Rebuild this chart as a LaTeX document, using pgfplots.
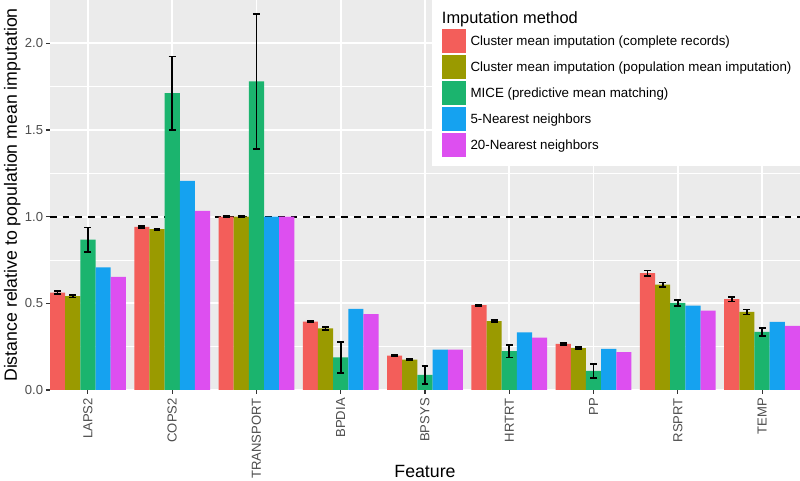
\documentclass[border=0pt]{standalone}
\usepackage{fontspec}
\setmainfont{Liberation Sans}
\usepackage{pgfplots}
\usepackage{pgfplotstable}
\pgfplotsset{compat=1.18}
\definecolor{cA}{HTML}{F35E5A}
\definecolor{cB}{HTML}{9A9A00}
\definecolor{cC}{HTML}{1BB46E}
\definecolor{cD}{HTML}{15A2F0}
\definecolor{cE}{HTML}{DD4FF0}
\definecolor{panelbg}{HTML}{EBEBEB}
\definecolor{ticktxt}{HTML}{4D4D4D}
\definecolor{tickcol}{HTML}{333333}

\pgfplotstableread{
x  a      ea     b      eb     c      ec     d      e
0  0.562  0.008  0.541  0.008  0.868  0.070  0.708  0.652
1  0.941  0.005  0.928  0.004  1.713  0.211  1.207  1.033
2  1.000  0.003  1.000  0.003  1.780  0.388  1.000  1.000
3  0.394  0.004  0.356  0.008  0.188  0.090  0.468  0.437
4  0.198  0.004  0.175  0.003  0.087  0.052  0.233  0.233
5  0.489  0.003  0.397  0.006  0.224  0.036  0.333  0.302
6  0.266  0.005  0.241  0.005  0.110  0.042  0.237  0.218
7  0.674  0.015  0.608  0.012  0.502  0.017  0.487  0.458
8  0.524  0.014  0.450  0.015  0.335  0.022  0.393  0.370
}\datatable

\begin{document}
\begin{tikzpicture}
\begin{axis}[
  name=ax,
  width=562.5pt, height=292.5pt, scale only axis,
  xmin=-0.45, xmax=8.45, ymin=0, ymax=2.25,
  ybar=0pt, bar width=0.18,
  legend image code/.code={\fill[#1,draw=none] (0pt,-9pt) rectangle (18pt,9pt);},
  axis background/.style={fill=panelbg},
  axis line style={draw=none},
  xtick={0,...,8},
  xticklabels={LAPS2,COPS2,TRANSPORT,BPDIA,BPSYS,HRTRT,PP,RSPRT,TEMP},
  ytick={0,0.5,1,1.5,2},
  yticklabels={0.0,0.5,1.0,1.5,2.0},
  minor ytick={0.25,0.75,1.25,1.75},
  xtick pos=bottom, ytick pos=left,
  tick align=outside,
  major tick length=3pt, minor tick length=0pt,
  tick style={draw=tickcol, line width=0.8pt},
  xmajorgrids, ymajorgrids, yminorgrids,
  major grid style={white, line width=1.4pt},
  minor grid style={white, line width=0.7pt},
  ticklabel style={font=\fontsize{9.8}{11}\selectfont, text=ticktxt},
  xticklabel style={rotate=90, anchor=east, inner sep=3pt},
  yticklabel style={inner sep=2pt},
  xlabel={Feature},
  ylabel={Distance relative to population mean imputation},
  label style={font=\fontsize{13.3}{15}\selectfont},
  xlabel style={at={(axis description cs:0.5,-0.2256)}, anchor=base},
  ylabel style={at={(axis description cs:-0.044,0.5)}, anchor=base, rotate=0},
  legend cell align=left,
  legend style={at={(axis description cs:0.5227,0.9256)}, anchor=north west,
    draw=none, fill=none, inner sep=0pt, row sep=1.5pt,
    nodes={inner sep=0pt},
    font=\fontsize{10}{12}\selectfont,
    /tikz/every odd column/.style={column sep=3.2pt}},
  error bars/error bar style={black, line width=1.3pt},
]
\addplot[ybar=0pt, forget plot, draw=black, line width=1.5pt, dash pattern=on 5pt off 4.5pt, sharp plot] coordinates {(-0.45,1) (8.45,1)};
\addplot[fill=cA, draw=none, error bars/.cd, y dir=both, y explicit, error mark options={rotate=90, mark size=2.6pt, line width=1.3pt, black}]
  table[x=x, y=a, y error=ea]{\datatable};
\addlegendentry{Cluster mean imputation (complete records)}
\addplot[fill=cB, draw=none, error bars/.cd, y dir=both, y explicit, error mark options={rotate=90, mark size=2.6pt, line width=1.3pt, black}]
  table[x=x, y=b, y error=eb]{\datatable};
\addlegendentry{Cluster mean imputation (population mean imputation)}
\addplot[fill=cC, draw=none, error bars/.cd, y dir=both, y explicit, error mark options={rotate=90, mark size=2.6pt, line width=1.3pt, black}]
  table[x=x, y=c, y error=ec]{\datatable};
\addlegendentry{MICE (predictive mean matching)}
\addplot[fill=cD, draw=none] table[x=x, y=d]{\datatable};
\addlegendentry{5-Nearest neighbors}
\addplot[fill=cE, draw=none] table[x=x, y=e]{\datatable};
\addlegendentry{20-Nearest neighbors}
\fill[white] (rel axis cs:0.5093,0.574) rectangle (rel axis cs:1,1);
\node[anchor=base west, font=\fontsize{12.3}{14}\selectfont, inner sep=0pt] at (rel axis cs:0.5223,0.940) {Imputation method};
\end{axis}
\pgfresetboundingbox
\path (ax.south west) ++(-37.5pt,-68.25pt) coordinate (bl);
\path (bl) rectangle (ax.north east);
\end{tikzpicture}
\end{document}
